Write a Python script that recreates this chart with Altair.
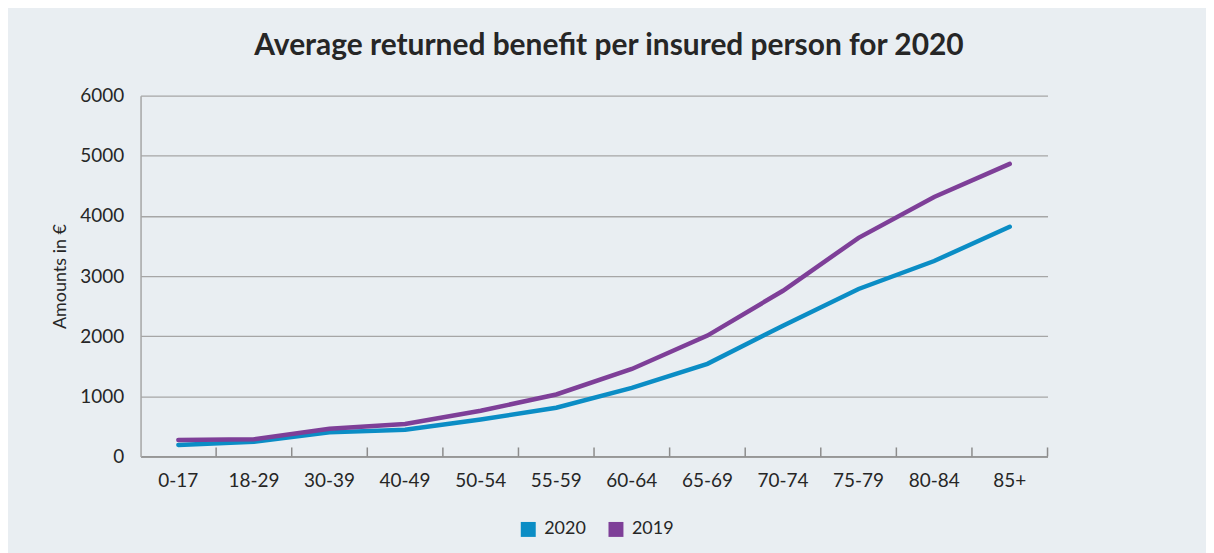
import altair as alt
import pandas as pd

cats = ["0-17", "18-29", "30-39", "40-49", "50-54", "55-59",
        "60-64", "65-69", "70-74", "75-79", "80-84", "85+"]
years = ["2020", "2019"]
v2020 = [190, 245, 400, 445, 615, 810, 1140, 1540, 2175, 2785, 3250, 3820]
v2019 = [275, 285, 460, 540, 760, 1030, 1455, 2010, 2755, 3635, 4315, 4865]
colors = ["#0b8dc5", "#7e3f98"]
yticks = [0, 1000, 2000, 3000, 4000, 5000, 6000]

rows = []
for yr, vals in zip(years, [v2020, v2019]):
    for c, v in zip(cats, vals):
        rows.append({"cat": c, "year": yr, "value": v})
df = pd.DataFrame(rows)

W, H = 910, 362
FONT = "Lato"
TXT = "#262626"


def xenc(bp):
    return alt.X(
        "cat:N", sort=cats,
        scale=alt.Scale(type="band", paddingInner=0, paddingOuter=0),
        bandPosition=bp,
        axis=alt.Axis(title=None, ticks=False, labelPadding=15, labelFontSize=19,
                      labelFont=FONT, labelColor=TXT, domainColor="#8c8c8c",
                      domainWidth=1.5, labelAngle=0, grid=False),
    )


lines = alt.Chart(df).mark_line(strokeWidth=4.5, strokeCap="round").encode(
    x=xenc(0.5),
    y=alt.Y("value:Q", scale=alt.Scale(domain=[0, 6000]),
            axis=alt.Axis(title="Amounts in €", values=yticks, format="d", ticks=False,
                          labelPadding=17, titlePadding=10, labelFontSize=19,
                          labelFont=FONT, labelColor=TXT, titleFont=FONT,
                          titleFontSize=18, titleFontWeight="normal", titleColor=TXT,
                          domainColor="#a6a6a6", domainWidth=1.5,
                          gridColor="#a6a6a6", gridWidth=1.3)),
    color=alt.Color("year:N", scale=alt.Scale(domain=years, range=colors),
                    legend=alt.Legend(title=None, orient="none", direction="horizontal",
                                      legendX=380, legendY=426,
                                      symbolType="square", symbolSize=49,
                                      symbolStrokeWidth=8, labelFontSize=18,
                                      labelFont=FONT, labelColor=TXT, labelOffset=7,
                                      columnPadding=10)),
)

ticks = alt.Chart(pd.DataFrame({"cat": cats})).mark_rule(
    color="#8c8c8c", strokeWidth=1.5
).encode(x=xenc(1), y=alt.value(H - 9), y2=alt.value(H))

chart = alt.layer(ticks, lines).properties(
    width=W, height=H,
    title=alt.TitleParams("Average returned benefit per insured person for 2020",
                          fontSize=30, font=FONT, fontWeight="bold", color=TXT,
                          anchor="middle", offset=26, dx=15),
    background="#e9eef2",
    padding={"left": 43, "top": 22, "right": 158, "bottom": 12},
).configure_view(stroke=None)

chart.save("out.html", embed_options={"renderer": "svg", "actions": False})
